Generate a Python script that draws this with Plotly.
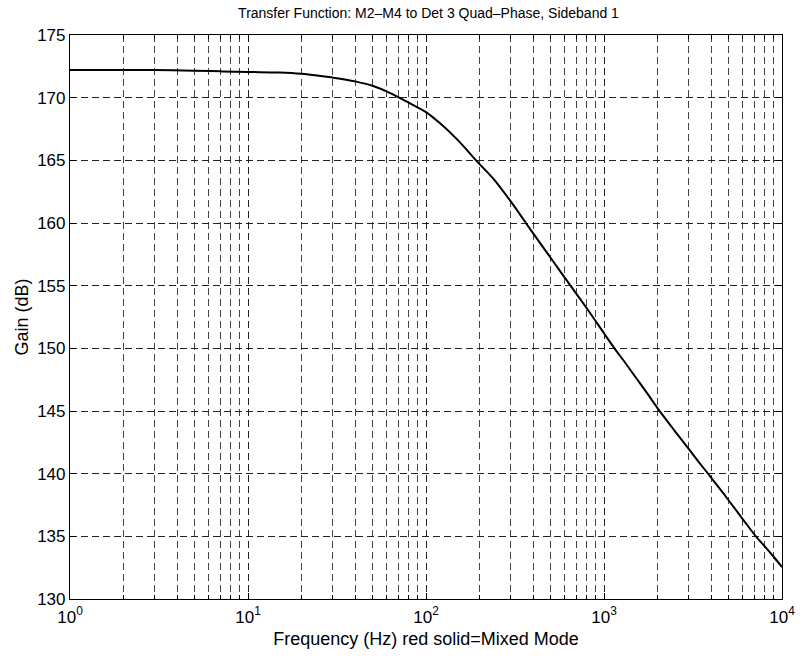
import plotly.graph_objects as go

freq_hz = [1, 2, 3, 5, 7, 10, 15, 20, 25, 30, 40, 50, 60, 72, 85, 100, 120, 150, 194,
           240, 300, 360, 420, 500, 648, 800, 1000, 1145, 1300, 1513, 1750, 2042,
           2500, 3000, 3400, 3917, 4500, 5000, 6000, 7228, 8000, 9000, 10000]
gain_db = [172.2, 172.2, 172.2, 172.15, 172.1, 172.05, 172.0, 171.9, 171.75, 171.6,
           171.3, 170.95, 170.5, 169.95, 169.4, 168.85, 167.95, 166.65, 164.9,
           163.5, 161.7, 160.1, 158.75, 157.25, 155.0, 153.2, 151.2, 150.0, 148.95,
           147.65, 146.4, 145.05, 143.4, 141.95, 140.95, 139.85, 138.75, 137.9, 136.4,
           134.9, 134.2, 133.35, 132.55]

x_major_vals = [1, 10, 100, 1000, 10000]
x_major_text = ["10<sup>0</sup>", "10<sup>1</sup>", "10<sup>2</sup>", "10<sup>3</sup>", "10<sup>4</sup>"]
x_minor_vals = [m * d for d in [1, 10, 100, 1000] for m in range(2, 10)]
y_tick_vals = [130, 135, 140, 145, 150, 155, 160, 165, 170, 175]

title_text = "Transfer Function: M2\u2013M4 to Det 3 Quad\u2013Phase, Sideband 1"
x_title = "Frequency (Hz) red solid=Mixed Mode"
y_title = "Gain (dB)"

font_family = "Liberation Sans, Arial, Helvetica, sans-serif"
grid_dash = "7px,4px"

fig = go.Figure()
fig.add_trace(go.Scatter(
    x=freq_hz, y=gain_db, mode="lines",
    line=dict(color="black", width=2, shape="spline", smoothing=1.0),
    showlegend=False, hoverinfo="skip",
))

fig.update_layout(
    width=807, height=658,
    margin=dict(l=70, r=20, t=35, b=59),
    paper_bgcolor="white", plot_bgcolor="white",
    font=dict(family=font_family, color="black"),
    title=dict(text=title_text, x=(70 + 787) / 2 / 807, xanchor="center",
               y=1 - 13 / 658, yanchor="middle",
               font=dict(size=14, family=font_family, color="black")),
)

fig.update_xaxes(
    type="log", range=[0, 4],
    tickvals=x_major_vals, ticktext=x_major_text,
    tickfont=dict(size=17, family=font_family, color="black"),
    ticklabelstandoff=2,
    ticks="inside", ticklen=6, tickcolor="black",
    showline=True, linecolor="black", linewidth=1.2, mirror="ticks",
    showgrid=True, gridcolor="#222", gridwidth=1, griddash=grid_dash,
    zeroline=False,
    minor=dict(tickvals=x_minor_vals, ticks="inside", ticklen=4, tickcolor="black",
               showgrid=True, gridcolor="#444", gridwidth=1, griddash=grid_dash),
    title=dict(text=x_title, font=dict(size=18, family=font_family, color="black"),
               standoff=6),
)

fig.update_yaxes(
    range=[130, 175],
    tickvals=y_tick_vals,
    tickfont=dict(size=17, family=font_family, color="black"),
    ticks="inside", ticklen=6, tickcolor="black",
    showline=True, linecolor="black", linewidth=1.2, mirror="ticks",
    showgrid=True, gridcolor="#222", gridwidth=1, griddash=grid_dash,
    zeroline=False,
    title=dict(text=y_title, font=dict(size=18, family=font_family, color="black"),
               standoff=3),
)

fig.write_html("out.html")
